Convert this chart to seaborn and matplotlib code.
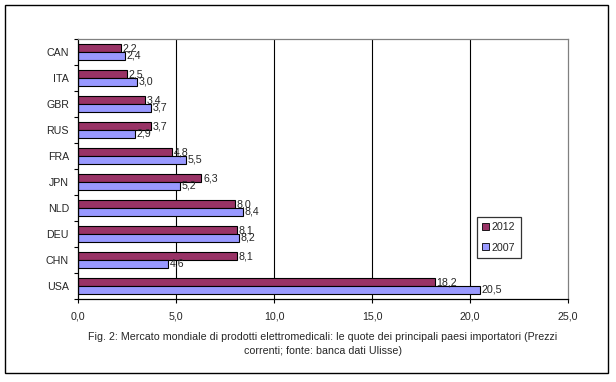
import matplotlib
matplotlib.use("Agg")
import matplotlib.pyplot as plt
from matplotlib.patches import Rectangle, Patch
import seaborn as sns
import pandas as pd
import numpy as np

countries = ["CAN", "ITA", "GBR", "RUS", "FRA", "JPN", "NLD", "DEU", "CHN", "USA"]
v2012 = [2.2, 2.5, 3.4, 3.7, 4.8, 6.3, 8.0, 8.1, 8.1, 18.2]
v2007 = [2.4, 3.0, 3.7, 2.9, 5.5, 5.2, 8.4, 8.2, 4.6, 20.5]
years = ["2012", "2007"]
colors = {"2012": "#993366", "2007": "#9999FF"}
xticks = [0, 5, 10, 15, 20, 25]
caption = ("Fig. 2: Mercato mondiale di prodotti elettromedicali: le quote dei principali paesi importatori (Prezzi\n"
           "correnti; fonte: banca dati Ulisse)")

df = pd.DataFrame({
    "paese": countries * 2,
    "anno": ["2012"] * len(countries) + ["2007"] * len(countries),
    "valore": v2012 + v2007,
})

sns.set_style("white")
plt.rcParams["font.family"] = ["Liberation Sans", "DejaVu Sans"]
FS = 7.7

fig = plt.figure(figsize=(6.16, 3.82), dpi=100)
ax = fig.add_axes([78/616, 1-299/382, (568-78)/616, (299-39)/382])

sns.barplot(data=df, y="paese", x="valore", hue="anno", hue_order=years,
            order=countries, palette=colors, orient="h", width=0.6,
            edgecolor="black", linewidth=0.8, saturation=1, ax=ax, legend=False)

# data labels
for cont, yr in zip(ax.containers, years):
    for bar in cont:
        w = bar.get_width()
        yc = bar.get_y() + bar.get_height() / 2
        ax.annotate(f"{w:.1f}".replace(".", ","), xy=(w, yc), xytext=(1.2, 0),
                    textcoords="offset points", va="center", ha="left", fontsize=FS)

ax.set_xlim(0, 25)
ax.set_ylim(len(countries) - 0.5, -0.5)
ax.set_xticks(xticks)
ax.set_xticklabels([f"{t:.1f}".replace(".", ",") for t in xticks], fontsize=FS)
ax.set_yticks(range(len(countries)))
ax.set_yticklabels(countries, fontsize=FS)
ax.set_yticks(np.arange(-0.5, len(countries), 1), minor=True)
ax.tick_params(axis="y", which="major", length=0, pad=6.5)
ax.tick_params(axis="y", which="minor", length=3, width=0.8, color="black", direction="out", left=True)
ax.tick_params(axis="x", which="major", length=3, width=0.8, color="black", direction="out", bottom=True, pad=6)
ax.set_xlabel("")
ax.set_ylabel("")

for x in xticks[1:-1]:
    ax.axvline(x, color="black", lw=0.8, zorder=0)

for s in ["left", "bottom"]:
    ax.spines[s].set_color("black")
    ax.spines[s].set_linewidth(0.9)
for s in ["top", "right"]:
    ax.spines[s].set_visible(True)
    ax.spines[s].set_color("#808080")
    ax.spines[s].set_linewidth(0.9)

handles = [Patch(facecolor=colors[y], edgecolor="black", linewidth=0.6, label=y) for y in years]
leg = fig.legend(handles=handles, loc="upper left", bbox_to_anchor=(477/616, 1-217/382),
                 fontsize=FS, frameon=True, fancybox=False, edgecolor="black",
                 handlelength=0.6, handleheight=0.6, handletextpad=0.3,
                 labelspacing=0.95, borderpad=0.5, borderaxespad=0)
leg.get_frame().set_linewidth(0.9)

fig.text(323/616, 1-344/382, caption, ha="center", va="center", fontsize=FS,
         linespacing=1.4)

fig.patches.append(Rectangle((5/616, 1-373/382), 603/616, 368/382, transform=fig.transFigure,
                             fill=False, edgecolor="black", linewidth=1.0))

fig.savefig("out.png", dpi=100)
